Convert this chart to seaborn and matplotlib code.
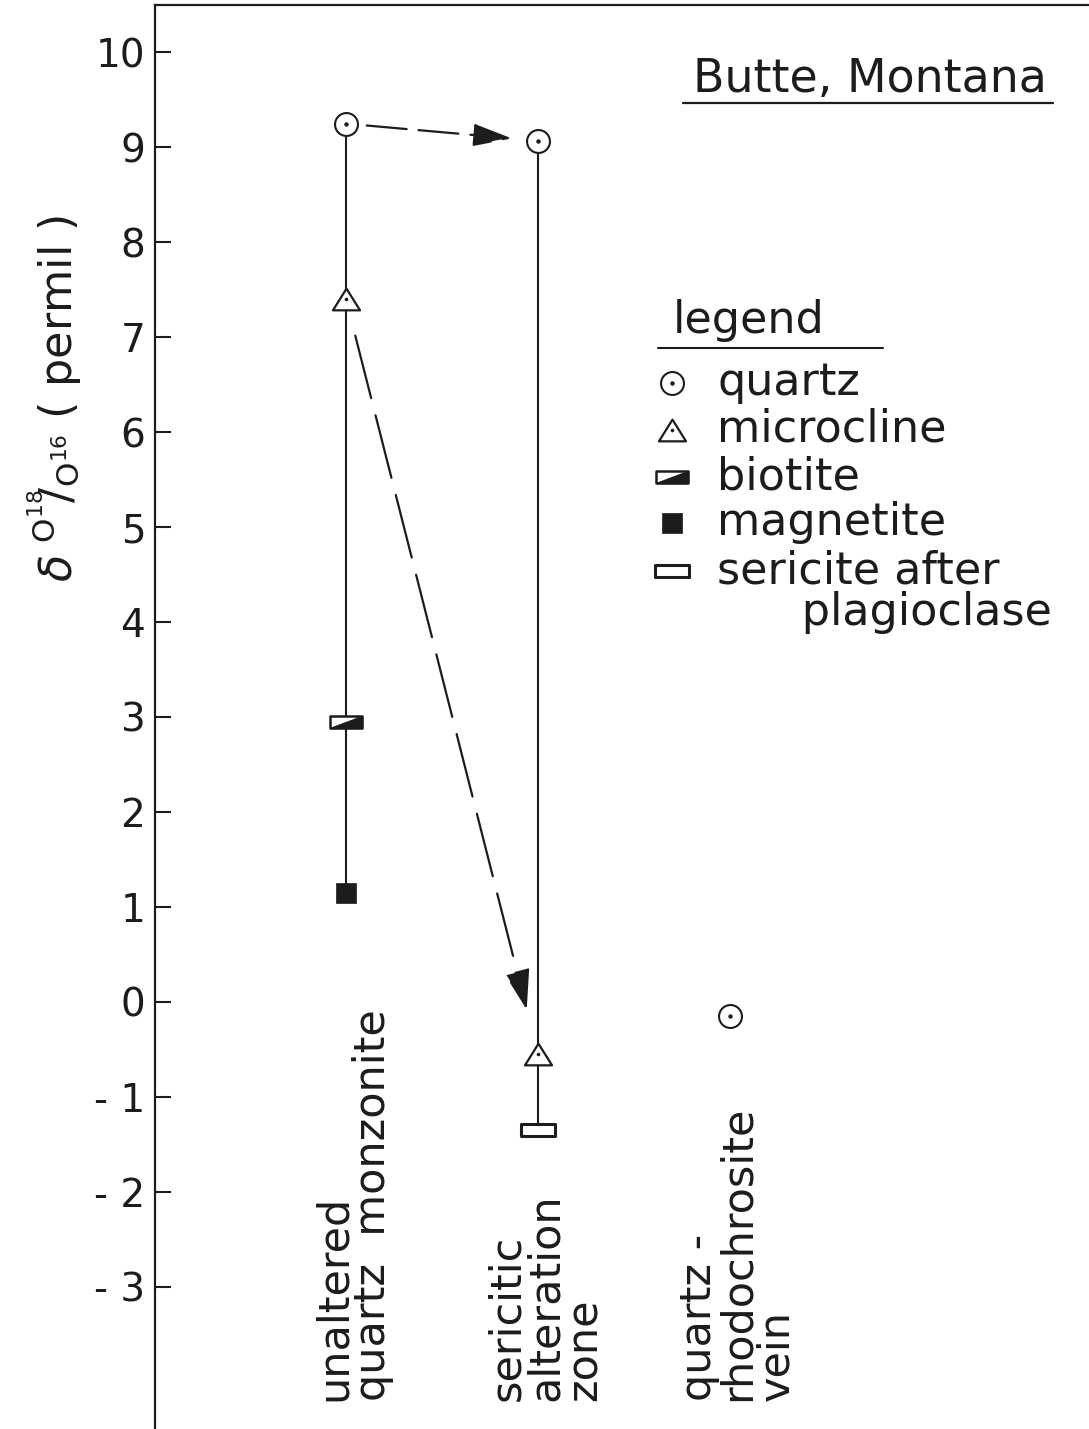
import numpy as np
import pandas as pd
import matplotlib
matplotlib.use("Agg")
import matplotlib.pyplot as plt
import seaborn as sns
from matplotlib.path import Path

# ---------------- data ----------------
categories = ["unaltered\nquartz  monzonite",
              "sericitic\nalteration\nzone",
              "quartz -\nrhodochrosite\nvein"]
minerals = ["quartz", "microcline", "biotite", "magnetite",
            "sericite after\n      plagioclase"]
quartz = [9.25, 9.07, -0.15]
microcline = [7.40, -0.55, np.nan]
biotite = [2.95, np.nan, np.nan]
magnetite = [1.15, np.nan, np.nan]
sericite = [np.nan, -1.35, np.nan]
y_ticks = [-3, -2, -1, 0, 1, 2, 3, 4, 5, 6, 7, 8, 9, 10]
y_ticklabels = ["- 3", "- 2", "- 1", "0", "1", "2", "3", "4", "5",
                "6", "7", "8", "9", "10"]
title = "Butte, Montana"
legend_title = "legend"
ylabel = r"$\delta\;{}^{\mathrm{O^{18}}}\!\!/_{\mathrm{O^{16}}}$ ( permil )"

series = [quartz, microcline, biotite, magnetite, sericite]
rows = []
for m, vals in zip(minerals, series):
    for i, v in enumerate(vals):
        if not np.isnan(v):
            rows.append({"pos": i, "mineral": m, "value": v})
df = pd.DataFrame(rows)

# ---------------- style ----------------
sns.set_style("white")
plt.rcParams["font.family"] = ["DejaVu Sans"]
plt.rcParams["mathtext.fontset"] = "dejavusans"
INK = "#1c1c1c"

W, H = 1089, 1429
fig = plt.figure(figsize=(W / 100, H / 100), dpi=100)
ax = fig.add_axes([155 / W, 0, 934 / W, 1424 / H])

# marker shapes
tri_path = Path([(0, 0.8), (-1, -0.8), (1, -0.8), (0, 0.8)], closed=True)
bio_rect = Path([(-1, -0.4), (1, -0.4), (1, 0.4), (-1, 0.4), (-1, -0.4)], closed=True)
bio_tri = Path([(-1, -0.4), (1, -0.4), (1, 0.4), (-1, -0.4)], closed=True)
ser_rect = Path([(-1, -0.37), (1, -0.37), (1, 0.37), (-1, 0.37), (-1, -0.37)], closed=True)

layers = {
    minerals[0]: [dict(marker="o", s=16.5 ** 2, facecolor="white", edgecolor=INK, linewidth=1.5),
                  dict(marker="o", s=3.2 ** 2, facecolor=INK, edgecolor=INK, linewidth=0)],
    minerals[1]: [dict(marker=tri_path, s=19.5 ** 2, facecolor="white", edgecolor=INK, linewidth=1.6),
                  dict(marker="o", s=2.6 ** 2, facecolor=INK, edgecolor=INK, linewidth=0)],
    minerals[2]: [dict(marker=bio_rect, s=23 ** 2, facecolor="white", edgecolor=INK, linewidth=1.8),
                  dict(marker=bio_tri, s=23 ** 2, facecolor=INK, edgecolor=INK, linewidth=1.0)],
    minerals[3]: [dict(marker="s", s=13.8 ** 2, facecolor=INK, edgecolor=INK, linewidth=0.5)],
    minerals[4]: [dict(marker=ser_rect, s=25 ** 2, facecolor="white", edgecolor=INK, linewidth=2.2)],
}

# vertical connecting lines
for i in range(len(categories)):
    vals = df.loc[df["pos"] == i, "value"]
    if len(vals) > 1:
        ax.vlines(i, vals.min(), vals.max(), color=INK, linewidth=1.5, zorder=1)

# data markers
for m in minerals:
    sub = df[df["mineral"] == m]
    for k, lay in enumerate(layers[m]):
        sns.scatterplot(data=sub, x="pos", y="value", ax=ax, legend=False,
                        zorder=3 + k, **lay)

ax.set_xlabel("")
ax.set_ylabel("")
ax.set_xlim(-0.995, 3.87)
ax.set_ylim(-4.5, 10.5)
for s in ["right", "bottom"]:
    ax.spines[s].set_visible(False)
for s in ["left", "top"]:
    ax.spines[s].set_linewidth(1.6)
    ax.spines[s].set_color(INK)
ax.set_xticks([])
ax.set_yticks(y_ticks)
ax.set_yticklabels(y_ticklabels)
ax.tick_params(axis="y", direction="in", length=11.5, width=1.5,
               labelsize=28, pad=7, colors=INK, left=True)

# dashed arrows between the two zones
ax.annotate("", xy=(1, quartz[1]), xytext=(0, quartz[0]),
            arrowprops=dict(arrowstyle="-|>,head_length=1.2,head_width=0.35",
                            lw=1.6, ls=(0, (18, 5.4)), color=INK,
                            shrinkA=15, shrinkB=19, mutation_scale=20),
            zorder=2)
ax.annotate("", xy=(1, microcline[1]), xytext=(0, microcline[0]),
            arrowprops=dict(arrowstyle="-|>,head_length=1.25,head_width=0.4",
                            lw=1.6, ls=(0, (29, 8)), color=INK,
                            shrinkA=27, shrinkB=33, mutation_scale=20),
            zorder=2)

# category labels (rotated)
for i, c in enumerate(categories):
    ax.text(i + 0.04, -4.2, c, rotation=90, ha="center", va="bottom",
            multialignment="left", fontsize=31, linespacing=0.9, color=INK)

def ax_xy(px, py):
    return ((px - 155) / 934, (1429 - py) / 1424)

# title with underline
tx, ty = ax_xy(870, 92)
ax.text(tx, ty, title, transform=ax.transAxes, ha="center", va="baseline",
        fontsize=33, color=INK)
(x0, y0), (x1, _) = ax_xy(683, 103), ax_xy(1053, 103)
ax.plot([x0, x1], [y0, y0], transform=ax.transAxes, color=INK, lw=1.6, clip_on=False)

# legend (hand laid out)
lx, ly = ax_xy(673, 333)
ax.text(lx, ly, legend_title, transform=ax.transAxes, ha="left", va="baseline",
        fontsize=32, color=INK)
(x0, y0), (x1, _) = ax_xy(658, 348), ax_xy(883, 348)
ax.plot([x0, x1], [y0, y0], transform=ax.transAxes, color=INK, lw=1.5, clip_on=False)

row_px = [383, 430, 477, 523, 571]
line_pitch = 42
for m, py in zip(minerals, row_px):
    kx, ky = ax_xy(672, py)
    for k, lay in enumerate(layers[m]):
        ax.scatter([kx], [ky], transform=ax.transAxes, zorder=3 + k, **lay)
    for j, line in enumerate(m.split("\n")):
        txx, tyy = ax_xy(717, py + 12 + j * line_pitch)
        ax.text(txx, tyy, line, transform=ax.transAxes, ha="left", va="baseline",
                fontsize=32, color=INK)

# y label
fig.text(55 / W, 1 - 398 / H, ylabel, rotation=90, ha="center", va="center",
         fontsize=32, color=INK)

fig.savefig("out.png", dpi=100, facecolor="white")
